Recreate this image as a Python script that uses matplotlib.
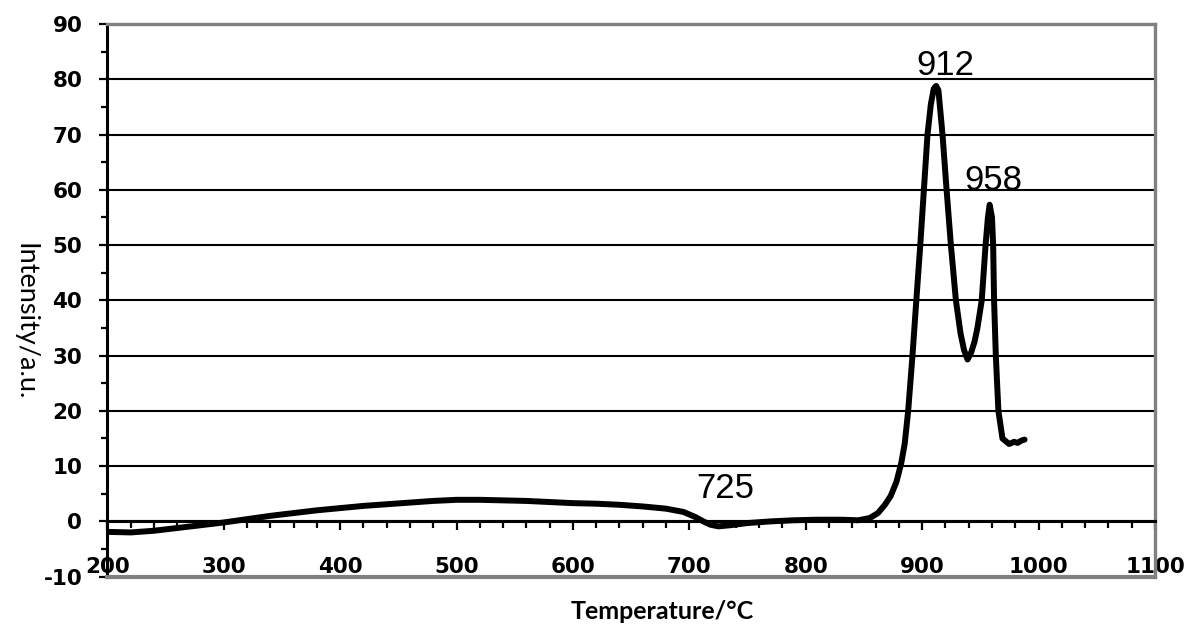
import matplotlib
matplotlib.use("Agg")
import matplotlib.pyplot as plt
from matplotlib.ticker import MultipleLocator

plt.rcParams["axes.unicode_minus"] = False

# TPR-like trace
temperature = [200, 220, 240, 260, 280, 300, 320, 340, 360, 380, 400, 420, 440,
               460, 480, 500, 520, 540, 560, 580, 600, 620, 640, 660, 680, 695,
               705, 712, 718, 725, 735, 750, 770, 790, 810, 830, 845, 855, 862,
               868, 873, 878, 882, 885, 888, 891.7, 895, 898.4, 901.5, 904.6,
               907.5, 910, 912, 914, 917.5, 921, 924.7, 929, 933, 936, 939, 942,
               945, 947.5, 951.2, 954.5, 956.5, 958, 960, 961, 961.8, 963.3,
               965.5, 969, 974.7, 979, 982, 985, 988]
intensity = [-1.9, -2.0, -1.7, -1.2, -0.7, -0.2, 0.4, 1.0, 1.5, 2.0, 2.4, 2.8,
             3.1, 3.4, 3.7, 3.9, 3.9, 3.8, 3.7, 3.5, 3.3, 3.2, 3.0, 2.7, 2.3,
             1.7, 0.8, 0.0, -0.6, -0.9, -0.7, -0.3, 0.0, 0.2, 0.3, 0.3, 0.2,
             0.6, 1.5, 3.0, 4.6, 7.2, 10.5, 14.0, 20.0, 30.0, 40.0, 50.0, 60.0,
             70.0, 75.5, 78.3, 78.8, 78.0, 70.0, 60.0, 50.0, 40.0, 34.0, 31.0,
             29.3, 30.5, 32.5, 35.0, 40.0, 50.0, 55.0, 57.3, 55.0, 50.0, 40.0,
             30.0, 20.0, 15.0, 14.0, 14.4, 14.2, 14.6, 14.8]

peak_labels = ["912", "958", "725"]
peak_x = [919.7, 960.9, 730.8]
peak_y = [80.8, 59.9, 4.2]

x_ticks = [200, 300, 400, 500, 600, 700, 800, 900, 1000, 1100]
y_ticks = [-10, 0, 10, 20, 30, 40, 50, 60, 70, 80, 90]

fig = plt.figure(figsize=(11.87, 6.30), dpi=100)
ax = fig.add_axes([0.0904, 0.0847, 0.8826, 0.8772])

ax.plot(temperature, intensity, color="black", linewidth=4.3,
        solid_joinstyle="round", solid_capstyle="round", zorder=5)

ax.set_xlim(200, 1100)
ax.set_ylim(-10, 90)
ax.set_xticks(x_ticks)
ax.set_yticks(y_ticks)
ax.xaxis.set_minor_locator(MultipleLocator(20))
ax.yaxis.set_minor_locator(MultipleLocator(5))

ax.yaxis.grid(True, color="black", linewidth=1.5)
ax.set_axisbelow(True)

ax.spines["bottom"].set_position(("data", 0))
ax.spines["bottom"].set_color("black")
ax.spines["bottom"].set_linewidth(2.2)
ax.spines["left"].set_color("black")
ax.spines["left"].set_linewidth(2.2)
for side in ("top", "right"):
    ax.spines[side].set_color("#808080")
    ax.spines[side].set_linewidth(2.4)
ax.axhline(-10, color="#808080", linewidth=3.0, clip_on=False, zorder=6)

ax.tick_params(axis="x", which="major", direction="out", length=6.5, width=1.6,
               pad=19)
ax.tick_params(axis="x", which="minor", direction="out", length=5, width=1.6)
ax.tick_params(axis="y", which="major", direction="out", length=6, width=1.6,
               pad=12)
ax.tick_params(axis="y", which="minor", direction="out", length=4.5, width=1.6)
for lab in ax.get_xticklabels() + ax.get_yticklabels():
    lab.set_family("DejaVu Sans")
    lab.set_fontweight("bold")
    lab.set_fontsize(15.5)

for txt, px, py in zip(peak_labels, peak_x, peak_y):
    ax.text(px, py, txt, ha="center", va="baseline", fontsize=25,
            family="Liberation Sans", zorder=7)

fig.text(0.558, 0.029, "Temperature/°C", ha="center", va="center",
         fontsize=18, family="Lato", fontweight="bold")
fig.text(0.021, 0.489, "Intensity/a.u.", ha="center", va="center",
         rotation=-90, fontsize=19.5, family="Lato")

fig.savefig("out.png", dpi=100)
